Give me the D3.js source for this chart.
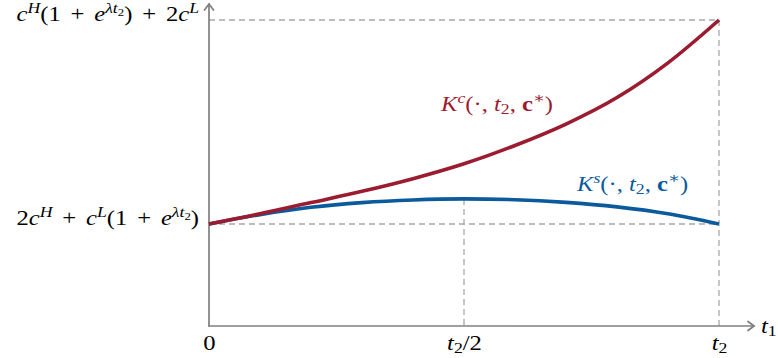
<!DOCTYPE html>
<html>
<head>
<meta charset="utf-8">
<script src="https://cdn.jsdelivr.net/npm/d3@7"></script>
<style>
  body { margin: 0; background: #fff; }
  text { font-family: "Liberation Serif", "DejaVu Serif", serif; }
</style>
</head>
<body>
<script>
/* sampled t1 positions, as fraction of t2 */
const tPos = [0, 0.1, 0.2, 0.3, 0.4, 0.5, 0.6, 0.7, 0.8, 0.9, 1];
/* K^c values, 0 = lower level, 1 = upper level */
const kc = [0, 0.05, 0.105, 0.16, 0.222, 0.295, 0.385, 0.49, 0.62, 0.79, 1];
/* K^s values */
const ks = [0, 0.046, 0.082, 0.105, 0.118, 0.123, 0.119, 0.106, 0.084, 0.05, 0];
/* tick positions */
const xTicks = [0, 0.5, 1];
const yTicks = [0, 1];

const width = 778, height = 358;
const fs = 20.5;      // font size
const sx = 1.2;       // the figure is stretched sideways

const svg = d3.select('body').append('svg')
  .attr('width', width).attr('height', height);

const x = d3.scaleLinear().domain([0, 1]).range([209, 719]);
const y = d3.scaleLinear().domain([-0.5, 1]).range([326, 20]);

const red = '#9b1c31', blue = '#0a5a9c', axisCol = '#7f7f7f', dashCol = '#a8a8a8';

/* little math typesetter: parts are [text, flags]; i italic, b bold, ^ sup, _ sub, o binary op */
const levels = { '': [0, 1], '^': [-0.38, 0.72], '_': [0.17, 0.72], '^_': [-0.24, 0.52] };
function tex(text, parts) {
  let cur = 0, pad = 0;
  parts.forEach(([s, f]) => {
    const key = f.replace(/[ibo]/g, '');
    const [off, sc] = levels[key];
    const op = f.includes('o');
    text.append('tspan')
      .attr('dx', ((pad + (op ? 0.4 : 0)) * fs).toFixed(2))
      .attr('dy', ((off - cur) * fs).toFixed(2))
      .attr('font-size', (sc * fs).toFixed(2))
      .attr('font-style', f.includes('i') ? 'italic' : 'normal')
      .attr('font-weight', f.includes('b') ? 'bold' : 'normal')
      .text(s);
    pad = op ? 0.4 : 0;
    cur = off;
  });
}
function label(px, py, col, parts) {
  const t = svg.append('g').attr('transform', `translate(${px},${py}) scale(${sx},1)`)
    .append('text').attr('fill', col);
  tex(t, parts);
}

/* dashed guides */
const guides = svg.append('g').attr('stroke', dashCol).attr('stroke-width', 1.3)
  .attr('stroke-dasharray', '6,4').attr('fill', 'none');
guides.append('line').attr('x1', x(0)).attr('x2', x(1)).attr('y1', y(1)).attr('y2', y(1));
guides.append('line').attr('x1', x(1)).attr('x2', x(1)).attr('y1', y(1)).attr('y2', y(-0.5));
guides.append('line').attr('x1', x(0)).attr('x2', x(1)).attr('y1', y(0)).attr('y2', y(0));
guides.append('line').attr('x1', x(0.5)).attr('x2', x(0.5)).attr('y1', y(ks[5])).attr('y2', y(-0.5));

/* axes */
const xAxis = svg.append('g')
  .attr('transform', `translate(0,${y(-0.5)})`)
  .call(d3.axisBottom(x).tickValues(xTicks).tickSize(0).tickPadding(0).tickFormat(''));
xAxis.select('.domain').remove();
const xLabels = [
  [['0', '']],
  [['t', 'i'], ['2', '_'], ['/2', '']],
  [['t', 'i'], ['2', '_']]
];
xAxis.selectAll('.tick text').each(function (d, i) {
  const t = d3.select(this).attr('y', 24).attr('dy', null)
    .attr('transform', `scale(${sx},1)`)
    .attr('fill', '#000').attr('text-anchor', 'middle');
  tex(t, xLabels[i]);
});

const yAxis = svg.append('g')
  .attr('transform', `translate(${x(0)},0)`)
  .call(d3.axisLeft(y).tickValues(yTicks).tickSize(0).tickPadding(0).tickFormat(''));
yAxis.select('.domain').remove();
const yLabels = [
  [['2', ''], ['c', 'i'], ['H', 'i^'], ['+', 'o'], ['c', 'i'], ['L', 'i^'], ['(1', ''], ['+', 'o'], ['e', 'i'], ['λt', 'i^'], ['2', '^_'], [')', '']],
  [['c', 'i'], ['H', 'i^'], ['(1', ''], ['+', 'o'], ['e', 'i'], ['λt', 'i^'], ['2', '^_'], [')', ''], ['+', 'o'], ['2', ''], ['c', 'i'], ['L', 'i^']]
];
yAxis.selectAll('.tick text').each(function (d, i) {
  const t = d3.select(this).attr('x', -10 / sx).attr('dy', 7)
    .attr('transform', `scale(${sx},1)`)
    .attr('fill', '#000').attr('text-anchor', 'end');
  tex(t, yLabels[i]);
});

/* axis lines with open arrow heads */
const ax = svg.append('g').attr('stroke', axisCol).attr('stroke-width', 1.7)
  .attr('fill', 'none').attr('stroke-linecap', 'round');
const xEnd = 754, yEnd = 4, ox = x(0), oy = y(-0.5);
ax.append('path').attr('d', `M${ox},${oy}H${xEnd}`);
ax.append('path').attr('d', `M${ox},${oy}V${yEnd}`);
ax.append('path').attr('d', `M${xEnd - 6},${oy - 4.5}Q${xEnd - 1.5},${oy - 1.2} ${xEnd},${oy}Q${xEnd - 1.5},${oy + 1.2} ${xEnd - 6},${oy + 4.5}`);
ax.append('path').attr('d', `M${ox - 4.5},${yEnd + 6}Q${ox - 1.2},${yEnd + 1.5} ${ox},${yEnd}Q${ox + 1.2},${yEnd + 1.5} ${ox + 4.5},${yEnd + 6}`);

label(761, 333, '#000', [['t', 'i'], ['1', '_']]);

/* curves */
const line = d3.line().curve(d3.curveMonotoneX);
svg.append('path')
  .attr('d', line(tPos.map((t, i) => [x(t), y(ks[i])])))
  .attr('fill', 'none').attr('stroke', blue).attr('stroke-width', 3.6);
svg.append('path')
  .attr('d', line(tPos.map((t, i) => [x(t), y(kc[i])])))
  .attr('fill', 'none').attr('stroke', red).attr('stroke-width', 3.6);

/* curve labels */
label(441, 111, red, [['K', 'i'], ['c', 'i^'], ['(·, ', ''], ['t', 'i'], ['2', '_'], [', ', ''], ['c', 'b'], ['∗', '^'], [')', '']]);
label(577, 191, blue, [['K', 'i'], ['s', 'i^'], ['(·, ', ''], ['t', 'i'], ['2', '_'], [', ', ''], ['c', 'b'], ['∗', '^'], [')', '']]);
</script>
</body>
</html>
